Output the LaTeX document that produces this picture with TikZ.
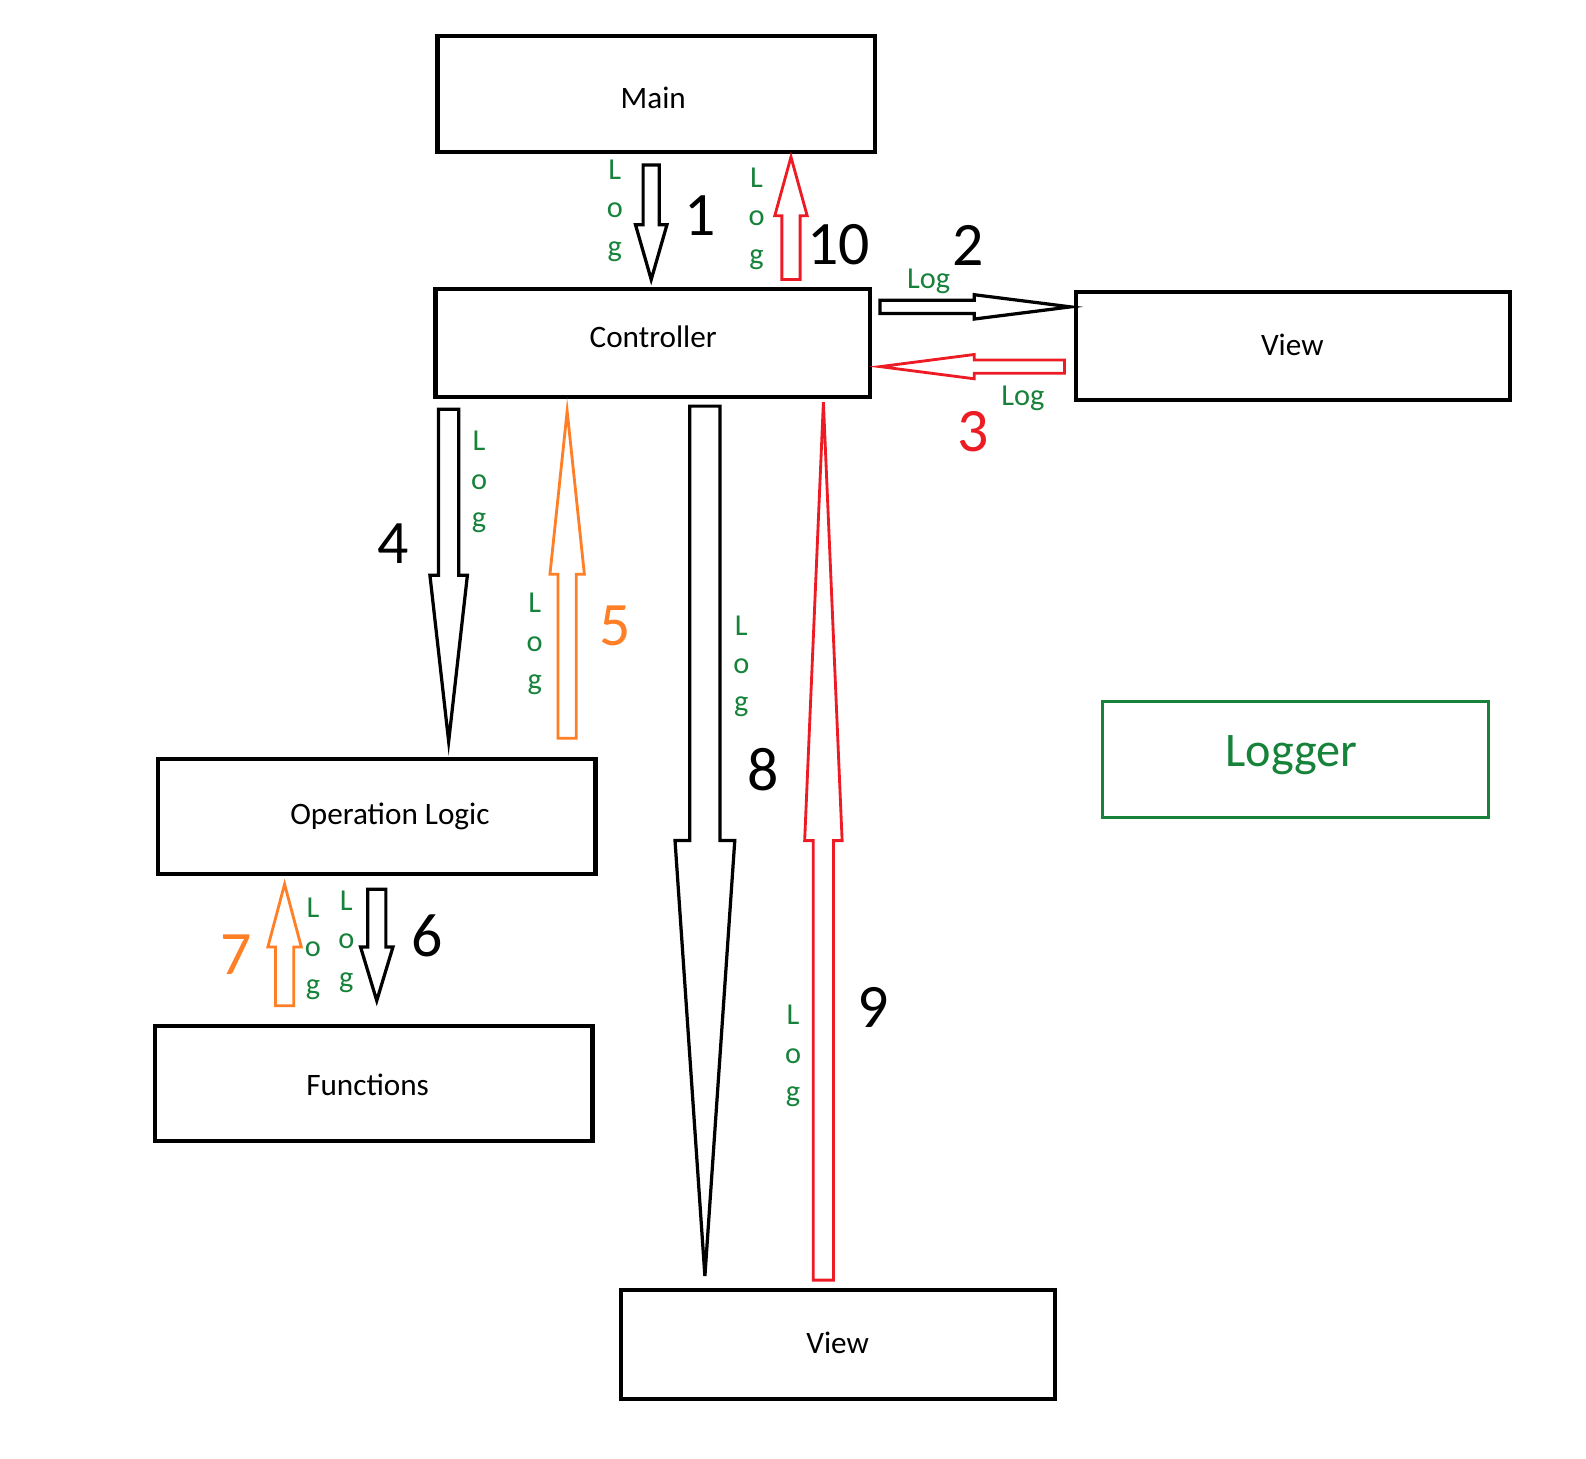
\documentclass[tikz,border=0pt]{standalone}
\usepackage{fontspec}
\setmainfont{Carlito}
\definecolor{lgreen}{RGB}{22,130,58}
\definecolor{pred}{RGB}{237,28,36}
\definecolor{porange}{RGB}{255,127,39}
% vertical block arrow: style, cx, tailY, headbaseY, shaft half width, head half width, tipY
\newcommand{\varrow}[7]{\draw[#1] ({#2-#5},#3) -- ({#2+#5},#3) -- ({#2+#5},#4) -- ({#2+#6},#4) -- (#2,#7) -- ({#2-#6},#4) -- ({#2-#5},#4) -- cycle;}
% horizontal block arrow: style, cy, tailX, headbaseX, shaft half width, head half width, tipX
\newcommand{\harrow}[7]{\draw[#1] (#3,{#2-#5}) -- (#3,{#2+#5}) -- (#4,{#2+#5}) -- (#4,{#2+#6}) -- (#7,#2) -- (#4,{#2-#6}) -- (#4,{#2-#5}) -- cycle;}
% vertical "Log": name prefix, x, baseline of L
\newcommand{\vlog}[3]{%
  \node[logtxt] (#1L) at (#2,#3) {L};
  \node[logtxt] (#1o) at (#2,{#3+38}) {o};
  \node[logtxt] (#1g) at (#2,{#3+76}) {g};}
\begin{document}
\begin{tikzpicture}[x=0.5pt,y=-0.5pt,
  box/.style={draw, line width=2pt, inner sep=0pt},
  boxtxt/.style={inner sep=0pt, font=\fontsize{15.4}{18}\selectfont},
  logtxt/.style={text=lgreen, anchor=base, inner sep=0pt, font=\fontsize{15}{18}\selectfont},
  num/.style={inner sep=0pt, font=\fontsize{30.5}{36}\selectfont},
  blk/.style={draw=black, line width=1.6pt, line join=miter},
  redar/.style={draw=pred, line width=1.4pt, line join=miter},
  orar/.style={draw=porange, line width=1.4pt, line join=miter}]
\useasboundingbox (0,0) rectangle (1566,1440);
\fill[white] (0,0) rectangle (1566,1440);
% boxes
\node[box, minimum width=216pt, minimum height=57pt] (main) at (648,93) {};
\node[box, minimum width=214.5pt, minimum height=53.5pt] (ctrl) at (644.5,338.5) {};
\node[box, minimum width=214.5pt, minimum height=53.5pt] (viewr) at (1276.5,341.5) {};
\node[box, minimum width=216pt, minimum height=57pt] (oplog) at (372,806) {};
\node[box, minimum width=216pt, minimum height=57pt] (func) at (369,1070) {};
\node[box, minimum width=214.5pt, minimum height=53.5pt] (viewb) at (827.5,1327.5) {};
\node[draw=lgreen, line width=1.5pt, inner sep=0pt, minimum width=190.5pt, minimum height=57pt] (logger) at (1279.5,750) {};
% box texts
\node[boxtxt] (mainT) at (645,97) {Main};
\node[boxtxt] (ctrlT) at (645,333) {Controller};
\node[boxtxt] (viewrT) at (1276,341) {View};
\node[boxtxt] (oplogT) at (385,806) {Operation Logic};
\node[boxtxt] (funcT) at (363,1071) {Functions};
\node[boxtxt] (viewbT) at (827,1326) {View};
\node[inner sep=0pt, text=lgreen, font=\fontsize{23.8}{28}\selectfont] (loggerT) at (1275,746) {Logger};
% arrows
\varrow{blk}{643}{163}{222}{8}{15.5}{276}      % 1
\varrow{redar}{781}{276}{213}{9}{16}{155}      % 10
\harrow{blk}{303}{869}{962}{6.5}{12}{1057}     % 2
\harrow{redar}{362}{1051}{962}{6.5}{12}{869}   % 3
\varrow{blk}{443}{404}{568}{10}{18.5}{732}     % 4
\varrow{orar}{560}{729}{567}{9}{17}{406}       % 5
\varrow{blk}{696}{401}{830}{15}{29.5}{1260}    % 8
\varrow{redar}{813}{1264}{830}{10}{18.5}{397}  % 9
\varrow{orar}{281}{993}{935}{9}{16.5}{873}     % 7
\varrow{blk}{372}{878}{935}{9}{16}{988}        % 6
% numbers
\node[num] (n1) at (691,213) {1};
\node[num] (n10) at (828,242) {10};
\node[num] (n2) at (956,242) {2};
\node[num, text=pred] (n3) at (961,426) {3};
\node[num] (n4) at (388,537) {4};
\node[num, text=porange] (n5) at (607,618) {5};
\node[num] (n8) at (754,760) {8};
\node[num] (n9) at (862,995) {9};
\node[num] (n6) at (422,924) {6};
\node[num, text=porange] (n7) at (233,943) {7};
% Log labels
\vlog{a}{607}{177}
\vlog{b}{747}{185}
\vlog{c}{473}{445}
\vlog{d}{528}{605}
\vlog{e}{732}{627}
\vlog{f}{783}{1012}
\vlog{g}{309}{906}
\vlog{h}{342}{899}
\node[logtxt] (loga) at (917,285) {Log};
\node[logtxt] (logb) at (1010,400) {Log};
\end{tikzpicture}
\end{document}
